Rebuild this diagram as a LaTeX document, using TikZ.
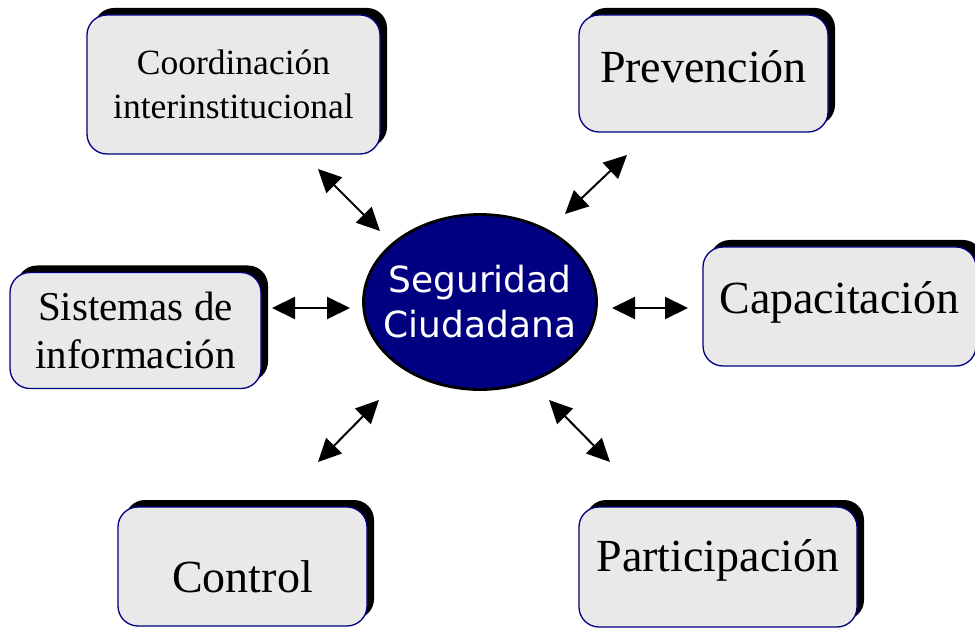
\documentclass[tikz,border=0pt]{standalone}
\usepackage{fontspec}
\setmainfont{Liberation Serif}
\newfontfamily\verdana{DejaVu Sans}
\usepackage{xcolor}
\usepackage{tikz}
\usetikzlibrary{arrows.meta,shadows,shapes.geometric}

\definecolor{azulmarino}{RGB}{0,0,128}
\definecolor{grisclaro}{RGB}{233,233,233}

\tikzset{
  tema/.style={draw=azulmarino, line width=1.3pt, fill=grisclaro, rounded corners=20pt,
    inner sep=0pt, align=center,
    drop shadow={shadow xshift=7pt, shadow yshift=7pt, opacity=1, fill=black}},
  flecha/.style={line width=2pt, {Triangle[length=23pt,width=22pt]}-{Triangle[length=23pt,width=22pt]}}
}

\begin{document}
\begin{tikzpicture}[x=1pt,y=-1pt]

    \useasboundingbox (0,0) rectangle (975,628);

    % Center
    \node[ellipse, draw=black, line width=2.8pt, fill=azulmarino, text=white, align=center,
          minimum width=233pt, minimum height=175pt, inner xsep=-35pt, inner ysep=0pt,
          font=\verdana\fontsize{36}{45}\selectfont] (seguridad) at (480,302) {Seguridad\\Ciudadana};

    % Top boxes
    \node[tema, minimum width=293pt, minimum height=139pt, font=\fontsize{35.5}{44}\selectfont]
        (coordinacion) at (233.5,84.5) {Coordinación\\interinstitucional};
    \node[tema, minimum width=249pt, minimum height=117pt, font=\fontsize{46}{50}\selectfont,
          text height=19pt, text depth=0pt] (prevencion) at (703.5,73.5) {Prevención};

    % Middle boxes
    \node[tema, minimum width=251pt, minimum height=116pt, font=\fontsize{41}{48}\selectfont]
        (sistemas) at (135.5,330.5) {Sistemas de\\información};
    \node[tema, minimum width=273pt, minimum height=119pt, font=\fontsize{46}{50}\selectfont,
          text height=15pt, text depth=0pt] (capacitacion) at (839.5,306.5) {Capacitación};

    % Bottom boxes
    \node[tema, minimum width=249pt, minimum height=119pt, font=\fontsize{46}{50}\selectfont,
          text height=51pt, text depth=0pt] (control) at (242.5,566.5) {Control};
    \node[tema, minimum width=278pt, minimum height=120pt, font=\fontsize{46}{50}\selectfont,
          text height=8pt, text depth=0pt] (participacion) at (718,567) {Participación};

    % Arrow ends
    \coordinate (c1) at (318,169);  \coordinate (c2) at (380,231);
    \coordinate (p1) at (565,214);  \coordinate (p2) at (627,155);
    \coordinate (s1) at (272,308);  \coordinate (s2) at (350,308);
    \coordinate (k1) at (612,308);  \coordinate (k2) at (688,308);
    \coordinate (t1) at (318,462);  \coordinate (t2) at (379,400);
    \coordinate (q1) at (549,400);  \coordinate (q2) at (610,462);

    % Arrows
    \draw[flecha] (c1) -- (c2);
    \draw[flecha] (p1) -- (p2);
    \draw[flecha] (s1) -- (s2);
    \draw[flecha] (k1) -- (k2);
    \draw[flecha] (t1) -- (t2);
    \draw[flecha] (q1) -- (q2);

\end{tikzpicture}
\end{document}
